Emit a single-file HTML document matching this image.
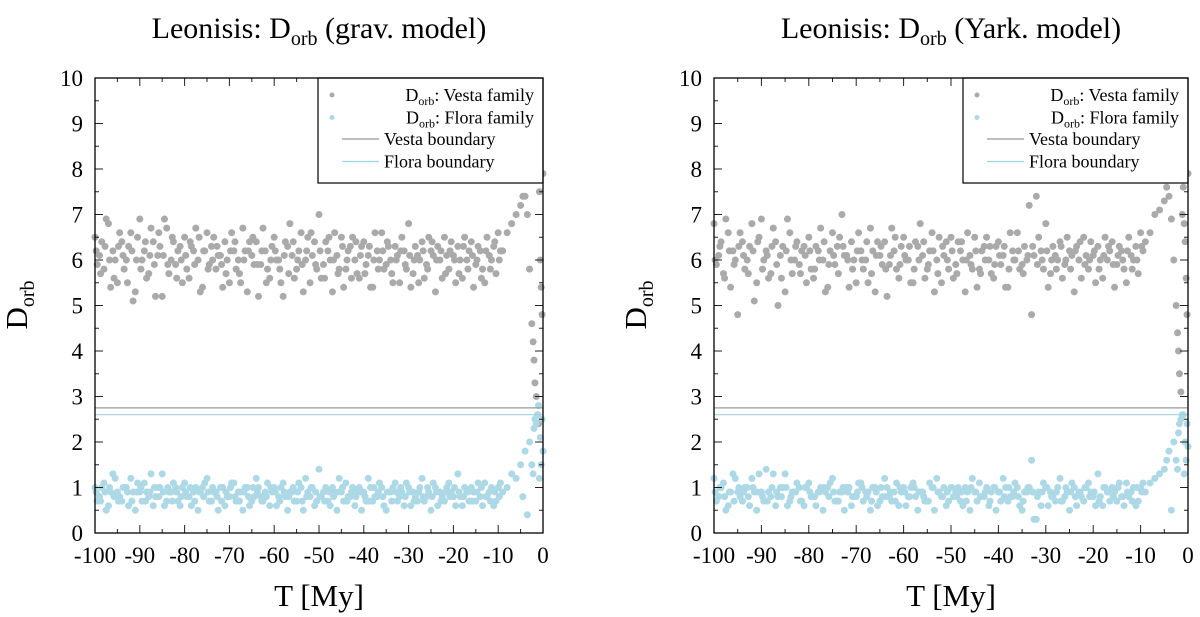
<!DOCTYPE html>
<html><head><meta charset="utf-8"><style>
html,body{margin:0;padding:0;background:#fff;}
svg{display:block;font-family:"Liberation Serif",serif;}
</style></head><body>
<svg id="c" width="1200" height="617" viewBox="0 0 1200 617"></svg>
<script>
const times=[-100,-99,-98,-97,-96,-95,-94,-93,-92,-91,-90,-89,-88,-87,-86,-85,-84,-83,-82,-81,-80,-79,-78,-77,-76,-75,-74,-73,-72,-71,-70,-69,-68,-67,-66,-65,-64,-63,-62,-61,-60,-59,-58,-57,-56,-55,-54,-53,-52,-51,-50,-49,-48,-47,-46,-45,-44,-43,-42,-41,-40,-39,-38,-37,-36,-35,-34,-33,-32,-31,-30,-29,-28,-27,-26,-25,-24,-23,-22,-21,-20,-19,-18,-17,-16,-15,-14,-13,-12,-11,-10];
const timesB=[-99.5,-98.5,-97.5,-96.5,-95.5,-94.5,-93.5,-92.5,-91.5,-90.5,-89.5,-88.5,-87.5,-86.5,-85.5,-84.5,-83.5,-82.5,-81.5,-80.5,-79.5,-78.5,-77.5,-76.5,-75.5,-74.5,-73.5,-72.5,-71.5,-70.5,-69.5,-68.5,-67.5,-66.5,-65.5,-64.5,-63.5,-62.5,-61.5,-60.5,-59.5,-58.5,-57.5,-56.5,-55.5,-54.5,-53.5,-52.5,-51.5,-50.5,-49.5,-48.5,-47.5,-46.5,-45.5,-44.5,-43.5,-42.5,-41.5,-40.5,-39.5,-38.5,-37.5,-36.5,-35.5,-34.5,-33.5,-32.5,-31.5,-30.5,-29.5,-28.5,-27.5,-26.5,-25.5,-24.5,-23.5,-22.5,-21.5,-20.5,-19.5,-18.5,-17.5,-16.5,-15.5,-14.5,-13.5,-12.5,-11.5,-10.5,-9.5];
const vestaGravA=[6.5,6.1,5.8,6.8,6.2,5.5,6.4,6.0,6.6,5.3,6.9,6.2,5.7,6.4,6.1,5.2,6.7,6.0,5.9,6.3,6.5,5.6,6.2,6.0,5.4,6.6,6.3,5.8,6.1,6.4,5.5,6.2,6.0,6.7,5.3,6.1,6.4,5.9,6.2,5.6,6.5,6.0,5.2,6.3,6.1,5.8,6.6,6.0,5.5,6.4,7.0,5.9,6.2,5.3,6.1,6.5,5.8,6.3,6.0,5.6,6.4,6.1,5.4,6.2,6.6,5.9,6.0,6.3,5.5,6.2,6.8,5.7,6.1,6.4,5.9,6.2,5.3,6.0,6.5,5.8,6.1,6.3,5.6,6.0,6.4,5.9,6.2,5.5,6.1,6.3,6.6];
const vestaGravB=[5.9,6.4,6.9,5.4,6.0,6.6,5.8,6.3,5.1,6.5,6.0,5.6,6.7,5.2,6.3,6.9,5.7,6.4,6.2,5.5,5.8,6.3,6.7,5.3,6.2,5.9,6.5,6.1,5.4,6.0,6.6,5.8,5.5,6.2,6.4,5.9,5.2,6.7,5.8,6.3,6.0,5.5,6.4,6.8,5.6,6.2,5.3,6.5,6.1,5.8,5.6,6.4,6.0,6.6,5.8,5.4,6.2,6.5,5.7,6.3,5.9,5.4,6.6,6.0,5.8,6.3,5.5,6.1,6.5,5.8,5.4,6.3,6.0,5.6,6.5,6.1,6.3,5.6,6.1,6.4,5.5,6.0,6.5,6.2,5.4,6.3,5.8,6.5,6.0,5.7,6.2];
const vestaGravC=[6.2,5.7,6.3,6.0,5.6,6.3,6.1,5.5,6.2,6.0,5.8,6.4,6.1,5.9,6.6,6.1,5.9,6.5,5.6,6.0,6.1,6.4,5.9,6.5,6.2,5.8,6.0,6.3,5.9,5.7,6.2,6.4,5.7,6.0,6.2,6.5,5.9,6.2,5.5,6.0,6.2,5.8,6.1,5.7,6.4,6.0,5.9,6.2,6.6,5.9,6.2,5.6,6.5,6.0,5.7,6.3,6.0,5.6,6.4,6.1,5.7,6.3,6.0,5.8,6.2,6.4,5.7,6.0,6.2,5.9,6.1,6.0,5.5,6.2,5.8,6.4,6.0,6.2,5.7,6.2,6.0,5.7,6.3,5.8,6.1,6.0,5.6,6.2,5.8,6.4,6.0];
const floraGravA=[1.0,0.8,1.1,0.6,1.3,0.9,0.7,1.0,1.2,0.5,0.9,1.1,0.8,0.6,1.0,1.3,0.7,0.9,1.0,0.6,1.1,0.8,0.9,0.5,1.0,1.2,0.7,0.9,1.0,0.6,0.8,1.1,0.9,0.5,1.0,0.7,1.2,0.8,0.9,0.6,1.0,0.8,1.1,0.5,0.9,0.7,1.0,1.2,0.8,0.6,1.4,0.9,0.7,1.0,0.5,0.9,1.1,0.8,0.6,1.0,0.9,1.2,0.7,0.8,1.0,0.5,0.9,1.1,0.8,0.6,1.0,0.9,0.7,1.2,0.8,0.5,1.0,0.9,0.7,1.1,0.8,1.3,0.6,0.9,1.0,0.7,0.8,1.1,0.9,0.6,1.0];
const floraGravB=[0.7,1.0,0.5,0.9,1.2,0.8,1.0,0.6,0.9,1.1,0.7,0.9,1.3,0.8,1.0,0.6,0.9,1.1,0.7,1.0,0.8,0.6,1.0,0.9,1.1,0.7,0.9,0.5,1.0,0.8,1.1,0.7,0.9,1.0,0.6,0.8,1.0,0.7,1.1,0.9,0.6,1.0,0.8,0.9,0.7,1.1,0.5,0.9,1.0,0.7,0.8,1.0,0.6,0.9,1.2,0.7,0.8,1.0,0.9,0.5,0.7,1.0,0.8,1.1,0.6,0.9,1.0,0.7,0.9,1.1,0.6,0.8,1.0,0.7,0.9,1.1,0.6,0.8,1.0,0.9,0.6,0.8,1.0,0.7,0.9,1.1,0.6,0.8,1.0,0.7,1.1];
const floraGravC=[0.9,0.7,0.9,1.0,0.8,0.7,1.0,0.9,0.7,0.9,1.0,0.7,0.9,1.0,0.8,0.9,1.0,0.7,0.9,0.8,0.9,1.0,0.7,0.9,0.8,0.9,1.0,0.8,0.7,0.9,1.0,0.8,0.7,0.9,0.8,1.0,0.9,0.7,0.8,1.0,0.9,0.7,0.9,0.8,1.0,0.9,0.7,0.8,1.0,0.9,0.8,0.7,0.9,0.8,0.9,1.0,0.7,0.9,0.8,0.9,0.8,0.7,1.0,0.9,0.8,0.9,0.7,0.9,1.0,0.8,0.9,0.7,0.9,0.8,1.0,0.8,0.9,0.7,0.9,0.8,1.0,0.9,0.8,0.9,0.7,0.9,1.0,0.8,0.7,0.9,0.8];
const vestaYarkA=[6.8,6.1,5.7,6.6,6.2,4.8,6.4,6.0,6.8,5.5,6.9,6.2,5.7,6.4,6.1,5.3,6.6,6.0,5.9,6.3,6.5,5.6,6.2,6.0,5.4,6.6,6.3,7.0,6.1,6.4,5.5,6.2,6.0,6.7,5.3,6.1,6.4,5.9,6.2,5.6,6.5,6.0,5.5,6.3,6.1,5.8,6.6,6.0,5.5,6.4,6.5,5.9,6.2,5.3,6.1,6.5,5.8,6.3,6.0,5.6,6.4,6.1,5.4,6.2,6.6,5.9,6.0,4.8,7.4,6.2,6.8,5.7,6.1,6.4,5.9,6.2,5.3,6.0,6.5,5.8,6.1,6.3,5.6,6.0,6.4,5.9,6.2,5.5,6.1,6.3,6.6];
const vestaYarkB=[5.9,6.4,6.9,5.4,6.0,6.6,5.8,6.3,5.1,6.5,6.0,5.6,6.7,5.0,6.3,6.9,5.7,6.4,6.2,5.5,5.8,6.3,6.7,5.3,6.2,5.9,6.5,6.1,5.4,6.0,6.6,5.8,5.5,6.2,6.4,5.9,5.2,6.7,5.8,6.3,6.0,5.5,6.4,6.8,5.6,6.2,5.3,6.5,6.1,5.8,5.6,6.4,6.0,6.6,5.8,5.4,6.2,6.5,5.7,6.3,5.9,5.4,6.6,6.0,5.8,6.3,7.2,6.1,6.5,5.8,5.4,6.3,6.0,5.6,6.5,6.1,6.3,5.6,6.1,6.4,5.5,6.0,6.5,6.2,5.4,6.3,5.8,6.5,6.0,5.7,6.2];
const vestaYarkC=[6.0,6.3,5.6,6.2,5.9,6.3,6.1,5.7,6.2,6.4,5.8,6.1,6.3,5.9,5.6,6.2,6.0,6.3,5.7,6.1,6.2,5.8,6.0,6.4,5.9,6.1,5.7,6.3,6.0,5.8,6.2,6.0,6.4,5.7,6.1,6.3,5.8,6.1,6.5,5.9,6.1,6.3,5.8,6.0,6.4,5.9,6.2,5.7,6.3,6.0,6.2,5.7,6.4,6.0,5.9,6.2,5.7,6.0,6.3,5.9,6.1,6.3,5.8,6.0,6.2,5.7,6.1,6.3,5.9,6.0,6.2,6.0,5.8,6.3,6.0,5.8,6.2,6.4,5.9,6.0,6.2,5.8,6.1,6.3,5.9,6.1,6.0,6.2,5.8,6.0,6.3];
const floraYarkA=[1.2,0.8,1.1,0.6,1.3,0.9,0.7,1.0,1.2,0.5,0.9,1.4,0.8,0.6,1.0,1.3,0.7,0.9,1.0,0.6,1.1,0.8,0.9,0.5,1.0,1.2,0.7,0.9,1.0,0.6,0.8,1.1,0.9,0.5,1.0,0.7,1.2,0.8,0.9,0.6,1.0,0.8,1.1,0.5,0.9,0.7,1.0,1.2,0.8,0.6,1.0,0.9,0.7,1.0,0.5,0.9,1.1,0.8,0.6,1.0,0.9,1.2,0.7,0.8,1.0,0.5,0.9,1.6,0.3,0.6,1.0,0.9,0.7,1.2,0.8,0.5,1.0,0.9,0.7,1.1,0.8,1.3,0.6,0.9,1.0,0.7,0.8,1.1,0.9,0.6,1.0];
const floraYarkB=[0.7,1.0,0.5,0.9,1.2,0.8,1.0,0.6,0.9,1.3,0.7,0.9,1.3,0.8,1.0,0.6,0.9,1.1,0.7,1.0,0.8,0.6,1.0,0.9,1.1,0.7,0.9,0.5,1.0,0.8,1.1,0.7,0.9,1.0,0.6,0.8,1.0,0.7,1.1,0.9,0.6,1.0,0.8,0.9,0.7,1.1,0.5,0.9,1.0,0.7,0.8,1.0,0.6,0.9,1.2,0.7,0.8,1.0,0.9,0.5,0.7,1.0,0.8,1.1,0.6,0.9,1.0,0.3,0.9,1.1,0.6,0.8,1.0,0.7,0.9,1.1,0.6,0.8,1.0,0.9,0.6,0.8,1.0,0.7,0.9,1.1,0.6,0.8,1.0,0.7,1.1];
const floraYarkC=[0.9,1.0,0.8,0.9,0.7,1.0,0.9,0.8,1.0,0.9,0.8,0.7,1.0,0.9,0.8,1.0,0.8,0.9,0.7,1.0,0.9,0.8,0.9,1.0,0.8,0.9,0.7,1.0,0.9,0.8,0.9,1.0,0.8,0.7,0.9,1.0,0.8,0.9,0.7,1.0,0.9,0.8,1.0,0.9,0.8,0.7,1.0,0.9,0.8,0.9,1.0,0.8,0.9,0.7,1.0,0.9,0.8,0.9,0.7,1.0,0.9,0.8,1.0,0.9,0.8,0.7,1.0,0.9,0.8,0.9,1.0,0.8,0.9,0.7,1.0,0.9,0.8,0.9,1.0,0.8,0.9,0.7,1.0,0.9,0.8,1.0,0.8,0.9,0.7,1.0,0.9];
const tailTimes=[-9,-8,-7,-6,-5,-4.5,-4,-3.5,-3,-2.5,-2.2,-2,-1.8,-1.5,-1.2,-1,-0.8,-0.6,-0.4,-0.2,0];
const vestaGravTail=[6.2,6.6,6.8,7.0,7.2,7.4,7.4,7.0,5.8,4.6,4.2,3.8,3.3,3.0,2.6,2.4,7.5,6.0,5.4,4.8,7.9];
const floraGravTail=[0.9,1.0,1.3,1.2,1.5,0.8,1.8,0.4,2.0,1.5,1.3,2.3,2.5,2.4,2.6,2.8,1.2,2.1,1.5,2.5,1.8];
const vestaYarkTail=[6.4,6.6,7.0,7.1,7.3,7.6,7.4,6.9,6.0,5.0,4.4,4.0,3.5,3.1,7.0,7.6,6.8,6.4,5.6,4.8,7.9];
const floraYarkTail=[0.9,1.1,1.2,1.3,1.4,1.6,1.8,0.5,2.0,1.6,1.4,2.2,2.4,2.5,2.6,2.6,1.3,2.0,1.6,2.4,1.9];
const xTicks=[-100,-90,-80,-70,-60,-50,-40,-30,-20,-10,0];
const yTicks=[0,1,2,3,4,5,6,7,8,9,10];
const vestaBoundary=2.75, floraBoundary=2.6;

const NS='http://www.w3.org/2000/svg';
const svg=document.getElementById('c');
function mk(tag,attrs,parent,text){const e=document.createElementNS(NS,tag);for(const k in attrs)e.setAttribute(k,attrs[k]);if(text!==undefined)e.textContent=text;(parent||svg).appendChild(e);return e;}

function panel(P,key,title,vA,vB,vC,fA,fB,fC,vT,fT){
  const xs=t=>P.x0+(t+100)/100*(P.x1-P.x0);
  const ys=d=>P.y1-d/10*(P.y1-P.y0);
  const g=mk('g',{});
  
  
  const t=mk('text',{x:(P.x0+P.x1)/2,y:38,'text-anchor':'middle','font-size':30},g);
  
  
  t.innerHTML='Leonisis: D<tspan font-size="20" dy="7">orb</tspan><tspan dy="-7"> ('+title+')</tspan>';
  const pts=mk('g',{},g);
  
  
  const fpts=mk('g',{},g);
  
  
  function dots(T,D,grp,col,dx){T.forEach((tt,i)=>{const c=mk('circle',{cx:xs(tt)+dx,cy:ys(D[i]),r:3.5,fill:col},grp);});}
  dots(times,vA,pts,'#aaaaaa',0);dots(timesB,vB,pts,'#aaaaaa',0);dots(times,vC,pts,'#aaaaaa',1.1);dots(tailTimes,vT,pts,'#aaaaaa',0);
  dots(times,fA,fpts,'#add8e6',0);dots(timesB,fB,fpts,'#add8e6',0);dots(times,fC,fpts,'#add8e6',1.1);dots(tailTimes,fT,fpts,'#add8e6',0);
  const vl=mk('line',{x1:P.x0,x2:P.x1,y1:ys(vestaBoundary),y2:ys(vestaBoundary),stroke:'#999','stroke-width':1.2},g);
  
  
  const fl=mk('line',{x1:P.x0,x2:P.x1,y1:ys(floraBoundary),y2:ys(floraBoundary),stroke:'#9fd3e2','stroke-width':1.2},g);
  
  
  for(let v=-100;v<=0;v+=5){const L=v%10===0?8:4;const x=xs(v);
    mk('line',{x1:x,x2:x,y1:P.y1,y2:P.y1-L,stroke:'#222','stroke-width':1},g);
    mk('line',{x1:x,x2:x,y1:P.y0,y2:P.y0+L,stroke:'#222','stroke-width':1},g);}
  for(let v=0;v<=10;v+=0.5){const L=Math.abs(v%1)<1e-9?8:4;const y=ys(v);
    mk('line',{x1:P.x0,x2:P.x0+L,y1:y,y2:y,stroke:'#222','stroke-width':1},g);
    mk('line',{x1:P.x1,x2:P.x1-L,y1:y,y2:y,stroke:'#222','stroke-width':1},g);}
  xTicks.forEach(v=>{const e=mk('text',{x:xs(v),y:P.y1+30,'text-anchor':'middle','font-size':23},g,String(v));});
  yTicks.forEach(v=>{const e=mk('text',{x:P.x0-12,y:ys(v)+8,'text-anchor':'end','font-size':23},g,String(v));});
  const xl=mk('text',{x:(P.x0+P.x1)/2,y:606,'text-anchor':'middle','font-size':31},g,'T [My]');
  
  
  const yl=mk('text',{x:0,y:0,'text-anchor':'middle','font-size':31,transform:'translate('+(P.x0-68)+',305) rotate(-90)'},g);
  
  
  yl.innerHTML='D<tspan font-size="20" dy="7">orb</tspan>';
  const lg=mk('g',{},g);
  
  
  const lx=P.x1-225;
  mk('rect',{x:lx,y:P.y0,width:225,height:105,fill:'#fff',stroke:'#000','stroke-width':1.2},lg);
  const rows=[['dot','#aaaaaa','D','orb',': Vesta family'],['dot','#add8e6','D','orb',': Flora family'],['line','#999','Vesta boundary'],['line','#9fd3e2','Flora boundary']];
  rows.forEach((r,i)=>{const y=P.y0+20+i*22.5;
    if(r[0]==='dot'){mk('circle',{cx:lx+14,cy:y-3,r:2.5,fill:r[1]},lg);
      const tx=mk('text',{x:P.x1-9,y:y+3,'text-anchor':'end','font-size':18},lg);
      tx.innerHTML='D<tspan font-size="12" dy="4">orb</tspan><tspan dy="-4">'+r[4]+'</tspan>';
      }
    else{mk('line',{x1:lx+24,x2:lx+61,y1:y-4,y2:y-4,stroke:r[1],'stroke-width':1.2},lg);
      const tx=mk('text',{x:lx+66,y:y+2,'font-size':18},lg,r[2]);
      }
  });
  const fr=mk('rect',{x:P.x0,y:P.y0,width:P.x1-P.x0,height:P.y1-P.y0,fill:'none',stroke:'#000','stroke-width':1.3},g);
  
  
}
panel({x0:95,x1:543,y0:78,y1:533},'grav','grav. model',vestaGravA,vestaGravB,vestaGravC,floraGravA,floraGravB,floraGravC,vestaGravTail,floraGravTail);
panel({x0:714,x1:1188,y0:78,y1:533},'yark','Yark. model',vestaYarkA,vestaYarkB,vestaYarkC,floraYarkA,floraYarkB,floraYarkC,vestaYarkTail,floraYarkTail);
</script>
</body></html>
